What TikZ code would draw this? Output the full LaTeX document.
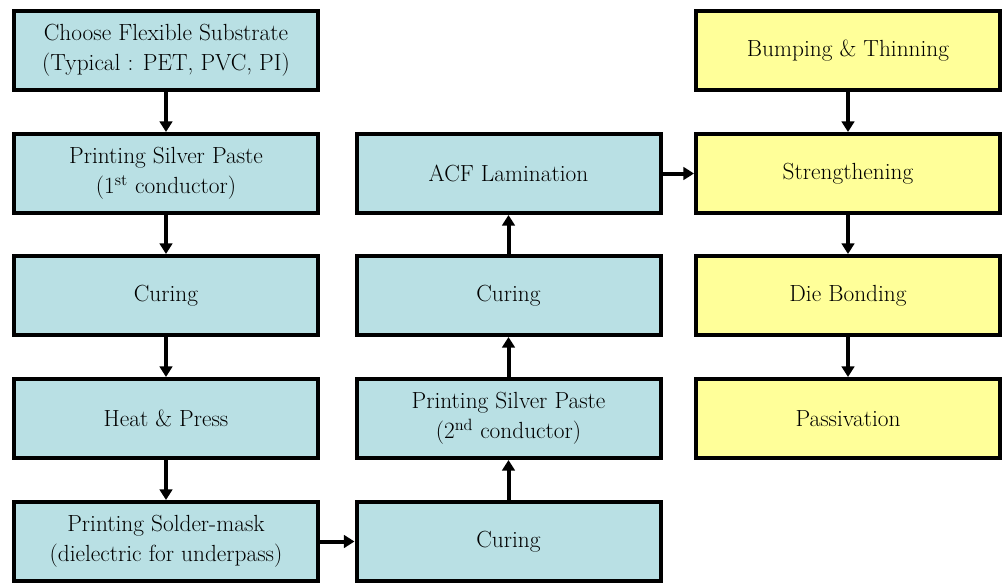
\documentclass[tikz,border=0pt]{standalone}
\usetikzlibrary{arrows.meta}
\definecolor{stepblue}{HTML}{B9E0E4}
\definecolor{stepyellow}{HTML}{FFFF99}
\begin{document}
\begin{tikzpicture}[x=0.75pt,y=0.75pt,yscale=-1,xscale=1,
  stepbox/.style={draw=black,line width=3pt,minimum width=228pt,minimum height=59.25pt,align=center,font=\fontsize{17.5pt}{22.5pt}\selectfont,inner sep=0pt},
  bluebox/.style={stepbox,fill=stepblue},
  yellowbox/.style={stepbox,fill=stepyellow},
  flow/.style={line width=3pt,-{Triangle[width=9.5pt,length=8pt]}}]
\useasboundingbox (0,0) rectangle (1002,582);
\node [bluebox] (substrate) at (166,50.5) {Choose Flexible Substrate\\(Typical : PET, PVC, PI)};
\node [bluebox] (silverA) at (166,173.5) {Printing Silver Paste\\(1\textsuperscript{st} conductor)};
\node [bluebox] (curingA) at (166,295.5) {Curing};
\node [bluebox] (heatpress) at (166,418.5) {Heat \& Press};
\node [bluebox] (soldermask) at (166,541.5) {Printing Solder-mask\\(dielectric for underpass)};
\node [bluebox] (curingB) at (508.5,541.5) {Curing};
\node [bluebox] (silverB) at (508.5,418.5) {Printing Silver Paste\\(2\textsuperscript{nd} conductor)};
\node [bluebox] (curingC) at (508.5,295.5) {Curing};
\node [bluebox] (acf) at (508.5,173.5) {ACF Lamination};
\node [yellowbox] (bumping) at (848,50.5) {Bumping \& Thinning};
\node [yellowbox] (strength) at (848,173.5) {Strengthening};
\node [yellowbox] (diebond) at (848,295.5) {Die Bonding};
\node [yellowbox] (passiv) at (848,418.5) {Passivation};
\draw [flow] (substrate) -- (silverA);
\draw [flow] (silverA) -- (curingA);
\draw [flow] (curingA) -- (heatpress);
\draw [flow] (heatpress) -- (soldermask);
\draw [flow] (soldermask) -- (curingB);
\draw [flow] (curingB) -- (silverB);
\draw [flow] (silverB) -- (curingC);
\draw [flow] (curingC) -- (acf);
\draw [flow] (acf) -- (strength);
\draw [flow] (bumping) -- (strength);
\draw [flow] (strength) -- (diebond);
\draw [flow] (diebond) -- (passiv);
\end{tikzpicture}
\end{document}
